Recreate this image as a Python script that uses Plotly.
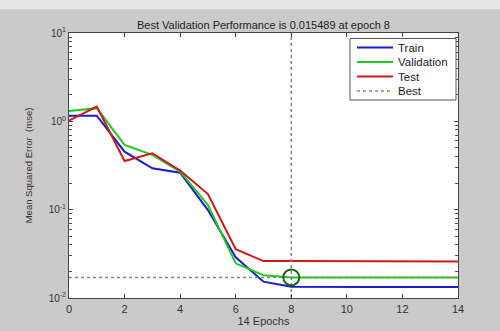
import plotly.graph_objects as go

epochs = list(range(15))
train = [1.16, 1.16, 0.454, 0.294, 0.262, 0.099, 0.0289, 0.0153, 0.0134, 0.0133, 0.0133, 0.0133, 0.0133, 0.0133, 0.0133]
validation = [1.31, 1.41, 0.54, 0.417, 0.27, 0.113, 0.0247, 0.0181, 0.0171, 0.0171, 0.0171, 0.0171, 0.0171, 0.0171, 0.0171]
test = [1.02, 1.47, 0.356, 0.435, 0.277, 0.150, 0.0356, 0.0262, 0.0262, 0.0262, 0.0262, 0.0259, 0.0259, 0.0259, 0.0259]
best_epoch = 8
best_value_drawn = 0.0171
title_text = "Best Validation Performance is 0.015489 at epoch 8"
x_ticks = [0, 2, 4, 6, 8, 10, 12, 14]
y_ticks = [0.01, 0.1, 1, 10]
y_tick_text = ["10<sup>-2</sup>", "10<sup>-1</sup>", "10<sup>0</sup>", "10<sup>1</sup>"]
y_minor_ticks = [m * d for d in (0.01, 0.1, 1) for m in range(2, 10)]
legend_names = ["Train", "Validation", "Test", "Best"]

c_train, c_val, c_test, c_best = "#1a1ad0", "#1ec81e", "#d01818", "#6a9a6a"
legend_styles = [(c_train, 2, "solid"), (c_val, 2, "solid"), (c_test, 2, "solid"), (c_best, 1.5, "dot")]

font = "Liberation Sans, Arial, sans-serif"
fig = go.Figure()
fig.add_trace(go.Scatter(x=epochs, y=train, mode="lines", name="Train",
                         line=dict(color=c_train, width=2)))
fig.add_trace(go.Scatter(x=epochs, y=validation, mode="lines", name="Validation",
                         line=dict(color=c_val, width=2)))
fig.add_trace(go.Scatter(x=epochs, y=test, mode="lines", name="Test",
                         line=dict(color=c_test, width=2)))
fig.add_trace(go.Scatter(x=[0, 14], y=[best_value_drawn, best_value_drawn], mode="lines", name="Best",
                         line=dict(color=c_best, width=1.5, dash="dot")))
fig.add_trace(go.Scatter(x=[best_epoch, best_epoch], y=[0.01, 10], mode="lines",
                         line=dict(color="#808080", width=1.5, dash="dot")))
fig.add_trace(go.Scatter(x=[best_epoch], y=[best_value_drawn], mode="markers",
                         marker=dict(symbol="circle-open", size=16, color="#116611", line=dict(width=2))))

# manual legend (pixel layout of reference: plot area x 69..458, y 33..298)
W, H, X0, Y0 = 389.0, 265.0, 69.0, 298.0
px = lambda x: (x - X0) / W
py = lambda y: (Y0 - y) / H
shapes = [
    dict(type="rect", xref="paper", yref="paper", x0=-0.3, x1=1.2, y0=1.09, y1=1.2,
         fillcolor="#e6e6e6", line=dict(width=0), layer="below"),
    dict(type="rect", xref="paper", yref="paper", x0=px(350), x1=px(456), y0=py(100), y1=py(38.5),
         fillcolor="white", line=dict(color="#555555", width=1)),
]
annotations = []
entry_y = [47.5, 62, 76.5, 91]
for name, (col, w, dash), ey in zip(legend_names, legend_styles, entry_y):
    shapes.append(dict(type="line", xref="paper", yref="paper", x0=px(357), x1=px(393), y0=py(ey), y1=py(ey),
                       line=dict(color=col, width=w, dash=dash)))
    annotations.append(dict(xref="paper", yref="paper", x=px(396), y=py(ey), text=name, showarrow=False,
                            xanchor="left", yanchor="middle", font=dict(size=11.5, color="#222222")))

fig.update_layout(
    width=500, height=331,
    margin=dict(l=69, r=42, t=33, b=33),
    paper_bgcolor="#cacaca", plot_bgcolor="white",
    font=dict(family=font, size=11, color="#333333"),
    title=dict(text=title_text, x=0.527, xanchor="center", y=0.925, yanchor="middle",
               font=dict(size=11, color="#222222")),
    showlegend=False,
    shapes=shapes, annotations=annotations,
)
fig.update_xaxes(range=[0, 14], tickvals=x_ticks, ticks="inside", ticklen=4, mirror="ticks",
                 showline=True, linecolor="#444444", linewidth=1, showgrid=False, zeroline=False,
                 tickcolor="#444444", ticklabelstandoff=1, automargin=False,
                 title=dict(text="14 Epochs", standoff=2, font=dict(size=11)),
                 tickfont=dict(size=11))
fig.update_yaxes(type="log", range=[-2, 1], tickmode="array", tickvals=y_ticks, ticktext=y_tick_text,
                 ticks="inside", ticklen=4, mirror="ticks", showline=True, linecolor="#444444",
                 linewidth=1, showgrid=False, tickcolor="#444444", automargin=False,
                 minor=dict(tickmode="array", tickvals=y_minor_ticks, ticks="inside", ticklen=3,
                            tickcolor="#555555", showgrid=False),
                 title=dict(text="Mean Squared Error  (mse)", standoff=14, font=dict(size=9.5)),
                 tickfont=dict(size=10))

fig.write_html("out.html")
